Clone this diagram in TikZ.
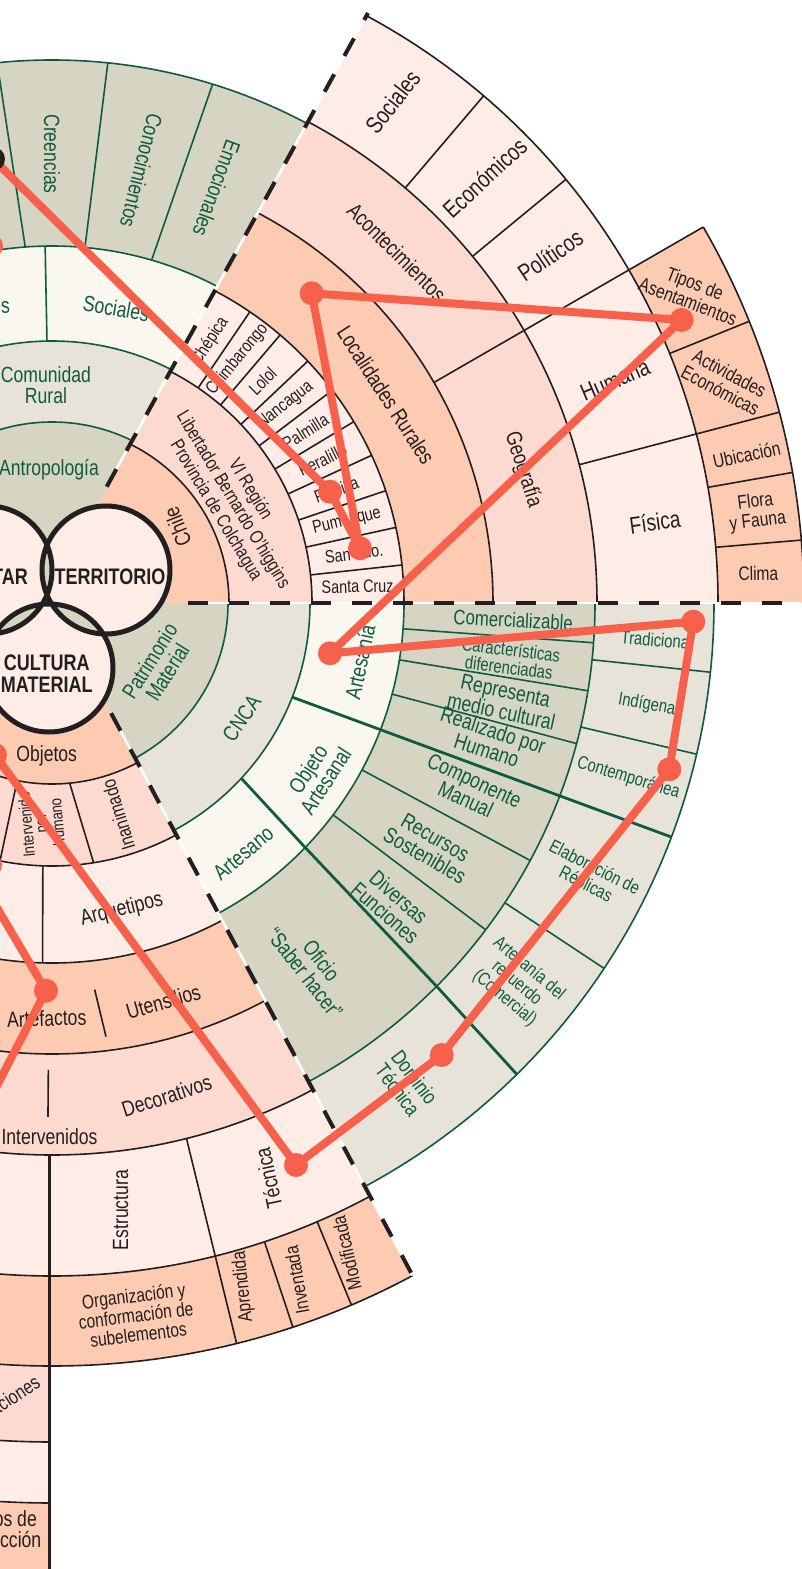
\documentclass[tikz,border=0pt]{standalone}
\usepackage{fontspec}
\setmainfont{Liberation Sans}[FakeStretch=0.8]

\definecolor{salmon}{HTML}{FDCAB2}
\definecolor{rosa}{HTML}{FDDAD0}
\definecolor{rosaclaro}{HTML}{FEEDE6}
\definecolor{gris}{HTML}{D6D5C4}
\definecolor{beige}{HTML}{E8E3D8}
\definecolor{crema}{HTML}{F9F7EE}
\definecolor{verde}{HTML}{0F5B3F}
\definecolor{tinta}{HTML}{231F20}
\definecolor{rojo}{HTML}{F7604B}

\begin{document}
\begin{tikzpicture}[x=1pt, y=1pt,
    linea/.style={draw=tinta, line width=1.6pt},
    lineav/.style={draw=verde, line width=1.6pt},
    gruesa/.style={draw=verde, line width=2.8pt},
    corte/.style={draw=tinta, line width=4pt, dash pattern=on 20pt off 21pt},
    hueco/.style={draw=white, line width=2.5pt},
    lbl/.style={text=tinta, align=center, inner sep=0pt, font=\fontsize{22}{21}\selectfont},
    lblv/.style={lbl, text=verde},
    chico/.style={font=\fontsize{18}{18}\selectfont},
    medio/.style={font=\fontsize{19.5}{19.5}\selectfont},
    grande/.style={font=\fontsize{24}{23}\selectfont},
    vlbl/.style={text=tinta, align=center, inner sep=0pt, font=\bfseries\fontsize{22.5}{22}\selectfont},
    punto/.style={circle, fill=rojo, minimum size=24pt, inner sep=0pt},
    ruta/.style={draw=rojo, line width=8pt, line join=round, line cap=round}]

    \useasboundingbox (-52,-966) rectangle (749,603);
    \fill[white] (-52,-966) rectangle (749,603);

    % sector habitar (arriba izquierda)
    \begin{scope}
        \clip (-7.4,0) -- (376.3,700) -- (-200,700) -- (-200,0) -- cycle;
        \fill[gris] (0,0) circle[radius=543pt];
        \fill[crema] (0,0) circle[radius=357pt];
        \fill[beige] (0,0) circle[radius=262pt];
        \fill[gris] (0,0) circle[radius=181pt];
        \foreach \r in {181pt,262pt,357pt,543pt}
            \draw[lineav] (0,0) circle[radius=\r];
        \draw[lineav] (91.1:262) -- (91.1:357);
        \draw[lineav] (94.3:357) -- (95.8:543);
        \draw[lineav] (84.7:357) -- (84.1:543);
        \draw[lineav] (73.8:357) -- (72.8:543);
    \end{scope}

    % sector territorio (arriba derecha)
    \begin{scope}
        \clip (-7.4,0) -- (376.3,700) -- (800,700) -- (800,0) -- cycle;
        \fill[rosaclaro] (0,0) circle[radius=666pt];
        \fill[rosa] (0,0) circle[radius=545pt];
        \fill[salmon] (0,0) circle[radius=441pt];
        \fill[rosaclaro] (0,0) circle[radius=352pt];
        \fill[rosa] (0,0) circle[radius=260pt];
        \fill[salmon] (0,0) circle[radius=177pt];
        \fill[salmon] (0:666pt) arc[start angle=0, end angle=30, radius=666pt]
            -- (30:752pt) arc[start angle=30, end angle=0, radius=752pt] -- cycle;
        \foreach \r in {177pt,260pt,352pt,441pt,545pt,666pt}
            \draw[linea] (0,0) circle[radius=\r];
        \draw[linea] (0:752pt) arc[start angle=0, end angle=30, radius=752pt];
        \foreach \a in {6.2,12.4,18.6,24.8,31,37.2,43.4,49.6,55.8}
            \draw[linea] (\a:260) -- (\a:352);
        \draw[linea] (30:441) -- (30:752);
        \draw[linea] (49.6:545) -- (49.6:666);
        \draw[linea] (39.5:545) -- (39.5:666);
        \draw[linea] (14.7:545) -- (14.7:752);
        \foreach \a in {22,10,4.8}
            \draw[linea] (\a:666) -- (\a:752);
    \end{scope}

    % sector artesania (abajo derecha)
    \begin{scope}
        \clip (0,0) -- (800,0) -- (800,-1100) -- (-61.8:1250) -- cycle;
        \fill[beige] (0,0) circle[radius=662pt];
        \fill[gris] (0,0) circle[radius=543pt];
        \fill[crema] (0,0) circle[radius=352pt];
        \fill[beige] (0,0) circle[radius=258pt];
        \fill[gris] (0,0) circle[radius=176pt];
        \foreach \r in {176pt,258pt,352pt,543pt,662pt}
            \draw[lineav] (0,0) circle[radius=\r];
        \foreach \a in {-4.2,-9.3,-15,-28.3,-37}
            \draw[lineav] (\a:352) -- (\a:543);
        \foreach \a in {-6,-13.2,-33.5}
            \draw[lineav] (\a:543) -- (\a:662);
        \draw[gruesa] (-21.4:258) -- (-20.7:662);
        \draw[gruesa] (-42.8:258) -- (-44:352) -- (-44.9:543) -- (-45.4:662);
    \end{scope}

    % sector cultura material (abajo izquierda)
    \begin{scope}
        \clip (0,0) -- (-61.8:1250) -- (-200,-1102) -- (-200,0) -- cycle;
        \begin{scope}
            \clip (-200,-1100) rectangle (-2.7,0);
            \fill[salmon] (0,0) circle[radius=1100pt];
            \fill[rosaclaro] (0,0) circle[radius=900pt];
            \fill[rosa] (0,0) circle[radius=839pt];
            \draw[linea] (0,0) circle[radius=839pt];
            \draw[linea] (0,0) circle[radius=900pt];
        \end{scope}
        \fill[salmon] (0,0) circle[radius=763pt];
        \fill[rosaclaro] (0,0) circle[radius=673pt];
        \fill[rosa] (0,0) circle[radius=552pt];
        \fill[salmon] (0,0) circle[radius=451pt];
        \fill[rosaclaro] (0,0) circle[radius=360pt];
        \fill[rosa] (0,0) circle[radius=263pt];
        \fill[salmon] (0,0) circle[radius=181pt];
        \foreach \r in {181pt,263pt,360pt,451pt,552pt,673pt,763pt}
            \draw[linea] (0,0) circle[radius=\r];
        \draw[linea] (-101.1:181) -- (-101.4:263);
        \draw[linea] (-84.4:181) -- (-80.9:263);
        \draw[linea] (-92:263) -- (-91.5:360);
        \draw[linea] (-83.7:389) -- (-82.9:437);
        \draw[linea] (-90.45:467) -- (-90.45:514);
        \draw[linea] (-75.9:552) -- (-76:763);
        \draw[linea] (-71.6:673) -- (-71.6:763);
        \draw[linea] (-66.8:673) -- (-66.9:763);
        \draw[linea, line width=2.6pt] (-2.7,-552) -- (-2.7,-1000);
    \end{scope}

    % cortes
    \draw[hueco] (54.7,116.3) -- (316,590);
    \draw[corte] (54.7,116.3) -- (316,590);
    \draw[hueco] (136,0) -- (749,0);
    \draw[corte] (136,0) -- (749,0);
    \draw[hueco] (-61.8:125) -- (-61.8:763);
    \draw[corte] (-61.8:125) -- (-61.8:763);

    % venn
    \coordinate (vH) at (-64,33);
    \coordinate (vT) at (54,33);
    \coordinate (vC) at (-3,-65);
    \fill[rosaclaro] (vH) circle[radius=64pt] (vT) circle[radius=64pt] (vC) circle[radius=64pt];
    \begin{scope}
        \clip (vT) circle[radius=64pt];
        \fill[gris] (vH) circle[radius=64pt] (vC) circle[radius=64pt];
    \end{scope}
    \begin{scope}
        \clip (vH) circle[radius=64pt];
        \fill[gris] (vC) circle[radius=64pt];
    \end{scope}
    \draw[draw=tinta, line width=5pt] (vH) circle[radius=64pt] (vT) circle[radius=64pt] (vC) circle[radius=64pt];
    \node[vlbl] (habitar) at (-64,26.3) {HABITAR};
    \node[vlbl] (territorio) at (58,26.3) {TERRITORIO};
    \node[vlbl] (cultura) at (-5.3,-70.3) {CULTURA\\MATERIAL};

    % textos habitar
    \node[lblv] (antro) at (-3,133) {Antropología};
    \node[lblv] (comu) at (-6,218) {Comunidad\\Rural};
    \node[lblv, rotate=-10] (socA) at (77.7:301.6) {Sociales};
    \node[lblv, rotate=3, anchor=east] (cult) at (-42,298) {Culturales};
    \node[lblv, rotate=-90] (cree) at (90:449) {Creencias};
    \node[lblv, rotate=-104] (cono) at (78.3:441.5) {Conocimientos};
    \node[lblv, rotate=-110] (emoc) at (68.3:446) {Emocionales};

    % textos territorio
    \node[lbl, rotate=112] (chile) at (31.3:146.7) {Chile};
    \node[lbl, font=\fontsize{19}{20}\selectfont, rotate=-59] (region) at (29.6:208)
        {VI Región\\Libertador Bernardo O'higgins\\Provincia de Colchagua};
    \foreach \nom/\ang [count=\i] in {Chépica/58.9, Chimbarongo/52.7, Lolol/46.5,
        Nancagua/40.3, Palmilla/34.1, Peralillo/27.9, Placilla/21.7, Pumanque/15.5,
        San Fdo./9.3, Santa Cruz/3.1}
        \node[lbl, chico, rotate=\ang-2] (loc\i) at (\ang:306) {\nom};
    \node[lbl, rotate=-57] (locrur) at (31.9:393.5) {Localidades Rurales};
    \node[lbl, rotate=-45] (acont) at (45.5:492) {Acontecimientos};
    \node[lbl, rotate=-72] (geo) at (15.8:489.4) {Geografía};
    \node[lbl, grande, rotate=52] (socB) at (55.8:606) {Sociales};
    \node[lbl, grande, rotate=43] (econ) at (44.5:606.7) {Económicos};
    \node[lbl, grande, rotate=34] (poli) at (34.9:607.5) {Políticos};
    \node[lbl, grande, rotate=23] (huma) at (21.6:605.7) {Humana};
    \node[lbl, grande, rotate=8] (fisi) at (7.65:608.4) {Física};
    \node[lbl, medio, rotate=-21] (tipos) at (25.9:711) {Tipos de\\Asentamientos};
    \node[lbl, medio, rotate=-28] (activ) at (18.2:708.5) {Actividades\\Económicas};
    \node[lbl, medio, rotate=12] (ubic) at (12.05:710.3) {Ubicación};
    \node[lbl, medio, rotate=7] (flora) at (7.36:710.5) {Flora\\y Fauna};
    \node[lbl, medio, rotate=1] (clima) at (2.4:707) {Clima};

    % textos artesania
    \node[lblv, rotate=58] (patri) at (-30.9:124) {Patrimonio\\Material};
    \node[lblv, rotate=55] (cnca) at (-31.3:222) {CNCA};
    \node[lblv, rotate=78] (artes) at (-10.8:313.5) {Artesanía};
    \node[lblv, rotate=57] (objeto) at (-33:315.7) {Objeto\\Artesanal};
    \node[lblv, rotate=40] (artesano) at (-52.6:315) {Artesano};
    \node[lblv, font=\fontsize{21}{21}\selectfont, rotate=-3] (comer) at (-2.1:461.6) {Comercializable};
    \node[lblv, font=\fontsize{18.5}{18}\selectfont, rotate=-7] (carac) at (-6.9:461.3) {Características\\diferenciadas};
    \node[lblv, rotate=-12] (repre) at (-12.3:462) {Representa\\medio cultural};
    \node[lblv, rotate=-18] (reali) at (-17.4:459) {Realizado por\\Humano};
    \node[lblv, rotate=-25] (compo) at (-24.1:458) {Componente\\Manual};
    \node[lblv, rotate=-30] (recur) at (-32.8:449.7) {Recursos\\Sostenibles};
    \node[lblv, rotate=-41] (diver) at (-41.6:454.8) {Diversas\\Funciones};
    \node[lblv, rotate=-52] (oficio) at (-54.3:447.8) {Oficio\\“Saber hacer”};
    \node[lblv, font=\fontsize{18.5}{18.5}\selectfont, rotate=-5] (tradi) at (-3.5:605.8) {Tradicional};
    \node[lblv, font=\fontsize{18.5}{18.5}\selectfont, rotate=-10] (indig) at (-9.7:603.4) {Indígena};
    \node[lblv, font=\fontsize{18.5}{18.5}\selectfont, rotate=-17] (conte) at (-16.9:602.4) {Contemporánea};
    \node[lblv, font=\fontsize{18.5}{19}\selectfont, rotate=-27] (elabo) at (-27:603.6) {Elaboración de\\Réplicas};
    \node[lblv, font=\fontsize{18.5}{19}\selectfont, rotate=-40] (recue) at (-39.3:600.5) {Artesanía del\\recuerdo\\(Comercial)};
    \node[lblv, font=\fontsize{21}{21}\selectfont, rotate=-53] (domin) at (-53.6:597) {Dominio\\Técnica};

    % textos cultura material
    \node[lbl] (objetos) at (-5.3,-153) {Objetos};
    \node[lbl, font=\fontsize{16.5}{14.5}\selectfont, rotate=95] (interv) at (-10.3,-220.3) {Intervenido\\por\\humano};
    \node[lbl, medio, rotate=107] (inani) at (66.3,-212) {Inanimado};
    \node[lbl, rotate=14] (arque) at (69.7,-307) {Arquetipos};
    \node[lbl, rotate=2] (artef) at (-5.3,-415.3) {Artefactos};
    \node[lbl, rotate=16] (uten) at (111.3,-398.7) {Utensilios};
    \node[lbl, rotate=18] (decor) at (114.7,-493) {Decorativos};
    \node[lbl] (intervs) at (-2.5,-534) {Intervenidos};
    \node[lbl, rotate=90] (estru) at (68.7,-607) {Estructura};
    \node[lbl, rotate=102] (tecni) at (216.3,-575.3) {Técnica};
    \node[lbl, medio, rotate=7] (organ) at (84,-712) {Organización y\\conformación de\\subelementos};
    \node[lbl, medio, rotate=96] (apren) at (191.3,-683.7) {Aprendida};
    \node[lbl, medio, rotate=100] (inven) at (244.7,-677) {Inventada};
    \node[lbl, medio, rotate=103] (modif) at (294.7,-650.3) {Modificada};
    \node[lbl, font=\fontsize{20}{20}\selectfont, rotate=33, anchor=east] (relac) at (-14,-777) {Relaciones};
    \node[lbl] (modos) at (-53.8,-928) {Modos de\\producción};

    % recorrido
    \node[punto] (pPlac) at (278,111.3) {};
    \node[punto] (pSanF) at (308,54.7) {};
    \node[punto] (pLoc) at (259.7,309.7) {};
    \node[punto] (pTipos) at (629.7,283) {};
    \node[punto] (pArtes) at (278,-50.3) {};
    \node[punto] (pTrad) at (641.3,-18.7) {};
    \node[punto] (pCont) at (617.3,-166.3) {};
    \node[punto] (pDom) at (389.7,-452) {};
    \node[punto] (pTec) at (244,-562) {};
    \node[punto] (pObj) at (-57,-152) {};
    \node[punto] (pArtef) at (-6,-387.7) {};
    \node[punto] (pBorde1) at (-61,357) {};
    \node[punto] (pBorde2) at (-62,-262) {};
    \coordinate (negro) at (-59,444);
    \coordinate (aIn) at (-82,-259);
    \coordinate (aOut) at (-82,-535);

    \draw[ruta] (negro) -- (pPlac.center) -- (pSanF.center) -- (pLoc.center)
        -- (pTipos.center) -- (pArtes.center) -- (pTrad.center) -- (pCont.center)
        -- (pDom.center) -- (pTec.center) -- (pObj.center);
    \draw[ruta] (aIn) -- (pArtef.center) -- (aOut);
    \node[punto, fill=tinta] (pNegro) at (negro) {};
\end{tikzpicture}
\end{document}
